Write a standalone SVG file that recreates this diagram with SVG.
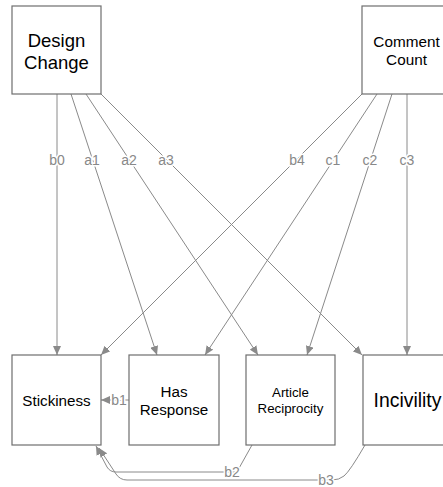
<svg xmlns="http://www.w3.org/2000/svg" width="443" height="487" viewBox="0 0 443 487">
<style>
.box{fill:#fff;stroke:#6e6e6e;stroke-width:1.2}
.t{font-family:"Liberation Sans",Arial,sans-serif;fill:#000;text-anchor:middle}
.e{fill:none;stroke:#8a8a8a;stroke-width:1}
.lb{font-family:"Liberation Sans",Arial,sans-serif;font-size:14px;fill:#888;text-anchor:middle;stroke:#fff;stroke-width:3;paint-order:stroke}
</style>
<defs>
<marker id="ah" markerUnits="userSpaceOnUse" markerWidth="9" markerHeight="8" refX="9" refY="4" orient="auto">
<path d="M0,0 L9,4 L0,8 z" fill="#8a8a8a"/>
</marker>
</defs>
<rect width="443" height="487" fill="#fff"/>
<g id="connectors">
<path class="e" marker-end="url(#ah)" d="M57,94 L57,355"/>
<path class="e" marker-end="url(#ah)" d="M71,94 L157,355"/>
<path class="e" marker-end="url(#ah)" d="M86,94 L258,355"/>
<path class="e" marker-end="url(#ah)" d="M101,94 L362,355"/>
<path class="e" marker-end="url(#ah)" d="M362,94 L101,355"/>
<path class="e" marker-end="url(#ah)" d="M377,94 L205,355"/>
<path class="e" marker-end="url(#ah)" d="M392,94 L307,355"/>
<path class="e" marker-end="url(#ah)" d="M407,94 L407,355"/>
<path class="e" marker-end="url(#ah)" d="M129,400 L101,400"/>
<path class="e" marker-end="url(#ah)" d="M252,445 L238,470 Q237,472 234,472 L116,472 Q110,472 107,467 L96,446"/>
<path class="e" marker-end="url(#ah)" d="M365,445 Q350,471 344,476 Q339,480 332,480 L127,480 Q120,480 116,474 L99,448"/>
<text class="lb" x="57" y="165">b0</text>
<text class="lb" x="92" y="165">a1</text>
<text class="lb" x="129" y="165">a2</text>
<text class="lb" x="166" y="165">a3</text>
<text class="lb" x="297" y="165">b4</text>
<text class="lb" x="333" y="165">c1</text>
<text class="lb" x="370" y="165">c2</text>
<text class="lb" x="407" y="165">c3</text>
<text class="lb" x="119" y="405">b1</text>
<text class="lb" x="232" y="477">b2</text>
<text class="lb" x="326" y="484.5">b3</text>
</g>
<g id="design-change">
<rect class="box" x="12" y="6" width="89" height="88"/>
<text class="t" x="56.5" y="47" font-size="18.5">Design</text>
<text class="t" x="56.5" y="69" font-size="18.5">Change</text>
</g>
<g id="comment-count">
<rect class="box" x="362" y="6" width="89" height="88"/>
<text class="t" x="406.5" y="47" font-size="15.3">Comment</text>
<text class="t" x="406.5" y="65" font-size="15.3">Count</text>
</g>
<g id="stickiness">
<rect class="box" x="12" y="355" width="89" height="90"/>
<text class="t" x="56.5" y="406" font-size="15.2">Stickiness</text>
</g>
<g id="has-response">
<rect class="box" x="129" y="355" width="90" height="90"/>
<text class="t" x="174" y="397" font-size="15.2">Has</text>
<text class="t" x="174" y="415" font-size="15.2">Response</text>
</g>
<g id="article-reciprocity">
<rect class="box" x="246" y="355" width="89" height="90"/>
<text class="t" x="290.5" y="397" font-size="13.3">Article</text>
<text class="t" x="290.5" y="413" font-size="13.3">Reciprocity</text>
</g>
<g id="incivility">
<rect class="box" x="363" y="355" width="89" height="90"/>
<text class="t" x="407.5" y="407" font-size="19.4">Incivility</text>
</g>
</svg>
